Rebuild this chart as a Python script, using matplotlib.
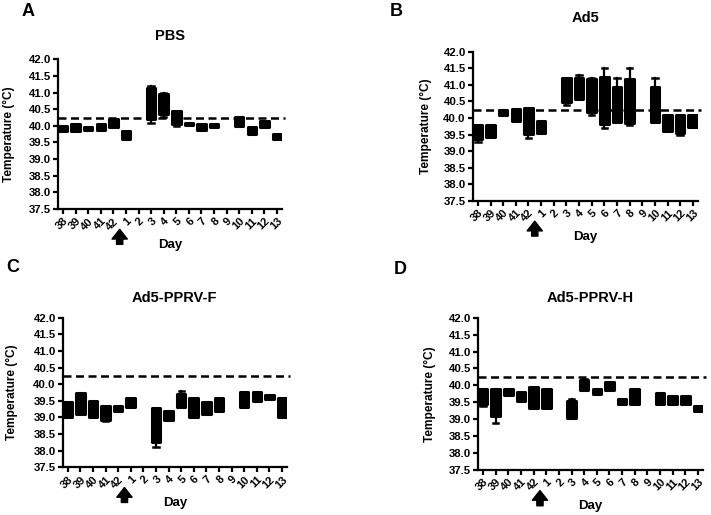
import numpy as np
import matplotlib
matplotlib.use("Agg")
import matplotlib.pyplot as plt

plt.rcParams['font.family'] = ['Liberation Sans', 'DejaVu Sans']
plt.rcParams['font.weight'] = 'bold'

days = ['38', '39', '40', '41', '42', '1', '2', '3', '4', '5', '6', '7', '8', '9',
        '10', '11', '12', '13']
fever_threshold = 40.25
nan = np.nan

# PBS
pbs_lo = [39.85, 39.85, 39.87, 39.87, 39.95, 39.6, nan, 40.1, 40.28, 40.0, 40.02, 39.88, 39.95, nan, 39.98, 39.75, 39.95, 39.6]
pbs_q1 = [39.85, 39.85, 39.87, 39.87, 39.95, 39.6, nan, 40.22, 40.35, 40.05, 40.02, 39.88, 39.95, nan, 39.98, 39.75, 39.95, 39.6]
pbs_q3 = [40.0, 40.05, 39.97, 40.07, 40.2, 39.85, nan, 41.15, 40.95, 40.45, 40.1, 40.05, 40.05, nan, 40.28, 39.95, 40.15, 39.75]
pbs_hi = [40.0, 40.05, 39.97, 40.07, 40.2, 39.85, nan, 41.2, 41.0, 40.45, 40.1, 40.05, 40.05, nan, 40.28, 39.95, 40.15, 39.75]

# Ad5
ad5_lo = [39.28, 39.42, 40.1, 39.92, 39.39, 39.55, nan, 40.4, 40.57, 40.1, 39.7, 39.87, 39.8, nan, 39.87, 39.62, 39.49, 39.72]
ad5_q1 = [39.38, 39.42, 40.1, 39.92, 39.52, 39.55, nan, 40.47, 40.57, 40.17, 39.82, 39.87, 39.84, nan, 39.87, 39.62, 39.54, 39.72]
ad5_q3 = [39.78, 39.78, 40.25, 40.27, 40.29, 39.9, nan, 41.22, 41.2, 41.17, 41.24, 40.94, 41.17, nan, 40.92, 40.1, 40.1, 40.1]
ad5_hi = [39.78, 39.78, 40.25, 40.27, 40.29, 39.9, nan, 41.22, 41.3, 41.2, 41.5, 41.2, 41.5, nan, 41.2, 40.1, 40.1, 40.1]

# Ad5-PPRV-F
f_lo = [39.0, 39.1, 39.0, 38.88, 39.2, 39.3, nan, 38.1, 38.92, 39.3, 39.0, 39.1, 39.2, nan, 39.3, 39.5, 39.55, 39.0]
f_q1 = [39.0, 39.1, 39.0, 38.92, 39.2, 39.3, nan, 38.25, 38.92, 39.3, 39.0, 39.1, 39.2, nan, 39.3, 39.5, 39.55, 39.0]
f_q3 = [39.47, 39.75, 39.5, 39.35, 39.35, 39.57, nan, 39.27, 39.18, 39.7, 39.57, 39.47, 39.57, nan, 39.78, 39.78, 39.68, 39.57]
f_hi = [39.47, 39.75, 39.5, 39.35, 39.35, 39.57, nan, 39.27, 39.18, 39.8, 39.57, 39.47, 39.57, nan, 39.78, 39.78, 39.68, 39.57]

# Ad5-PPRV-H
h_lo = [39.38, 38.9, 39.72, 39.55, 39.33, 39.33, nan, 39.05, 39.85, 39.75, 39.85, 39.45, 39.45, nan, 39.45, 39.45, 39.45, 39.25]
h_q1 = [39.45, 39.1, 39.72, 39.55, 39.33, 39.33, nan, 39.05, 39.85, 39.75, 39.85, 39.45, 39.45, nan, 39.45, 39.45, 39.45, 39.25]
h_q3 = [39.9, 39.9, 39.9, 39.8, 39.95, 39.88, nan, 39.55, 40.15, 39.9, 40.1, 39.6, 39.9, nan, 39.78, 39.7, 39.68, 39.4]
h_hi = [39.9, 39.9, 39.9, 39.8, 39.95, 39.88, nan, 39.6, 40.2, 39.9, 40.1, 39.6, 39.9, nan, 39.78, 39.7, 39.68, 39.4]

panels = [
    ('A', 'PBS', pbs_lo, pbs_q1, pbs_q3, pbs_hi),
    ('B', 'Ad5', ad5_lo, ad5_q1, ad5_q3, ad5_hi),
    ('C', 'Ad5-PPRV-F', f_lo, f_q1, f_q3, f_hi),
    ('D', 'Ad5-PPRV-H', h_lo, h_q1, h_q3, h_hi),
]

# axes rectangles in figure fraction, and title pad / ylabel offset
rects = [[0.0816, 0.594, 0.315, 0.291],
         [0.665, 0.6097, 0.3165, 0.290],
         [0.0882, 0.0926, 0.3155, 0.2905],
         [0.6723, 0.0874, 0.3165, 0.2957]]
title_pads = [14, 21, 11, 11]
ylab_x = [-0.19, -0.182, -0.20, -0.187]
letter_pos = [(0.040, 0.977), (0.558, 0.977), (0.018, 0.480), (0.563, 0.476)]

fig = plt.figure(figsize=(7.11, 5.15), dpi=100)

for i, (letter, title, lo, q1, q3, hi) in enumerate(panels):
    ax = fig.add_axes(rects[i])
    stats = []
    pos = []
    for k in range(len(days)):
        if np.isnan(q1[k]):
            continue
        stats.append(dict(whislo=lo[k], q1=q1[k], med=q1[k], q3=q3[k], whishi=hi[k]))
        pos.append(k)
    ax.bxp(stats, positions=pos, widths=0.68, patch_artist=True, showfliers=False,
           capwidths=0.42,
           boxprops=dict(facecolor='black', edgecolor='black', linewidth=2.2,
                         joinstyle='round'),
           whiskerprops=dict(color='black', linewidth=1.6),
           capprops=dict(color='black', linewidth=1.8),
           medianprops=dict(color='black', linewidth=1))

    ax.axhline(fever_threshold, xmin=0, xmax=1.015, color='black', lw=1.8,
               dashes=(3.2, 1.8), clip_on=False)

    ax.set_xlim(-0.4, len(days) - 0.6)
    ax.set_ylim(37.5, 42.0)
    ax.set_yticks(np.arange(37.5, 42.01, 0.5))
    ax.set_yticklabels(['%.1f' % v for v in np.arange(37.5, 42.01, 0.5)], fontsize=8.2, fontweight='bold')
    ax.set_xticks(range(len(days)))
    ax.set_xticklabels(days, rotation=45, ha='right', rotation_mode='anchor',
                       fontsize=8, fontweight='bold')
    for s in ['top', 'right']:
        ax.spines[s].set_visible(False)
    for s in ['left', 'bottom']:
        ax.spines[s].set_linewidth(1.6)
    ax.tick_params(direction='out', length=3.5, width=1.6, pad=1.5)

    ax.set_title(title, fontsize=10.5, fontweight='bold', pad=title_pads[i])
    ax.set_ylabel('Temperature (°C)', fontsize=8.6, fontweight='bold')
    ax.yaxis.set_label_coords(ylab_x[i], 0.5)
    ax.set_xlabel('Day', fontsize=9.5, fontweight='bold')
    ax.xaxis.set_label_coords(0.5, -0.2)

    # vaccination arrow between day 42 and day 1
    ax.annotate('', xy=(4.5, -0.135), xytext=(4.5, -0.235),
                xycoords=('data', 'axes fraction'),
                arrowprops=dict(facecolor='black', edgecolor='black',
                                width=4.5, headwidth=11, headlength=7))

    fig.text(letter_pos[i][0], letter_pos[i][1], letter, fontsize=13,
             fontweight='bold', ha='center', va='center')

fig.savefig('out.png', dpi=100)
